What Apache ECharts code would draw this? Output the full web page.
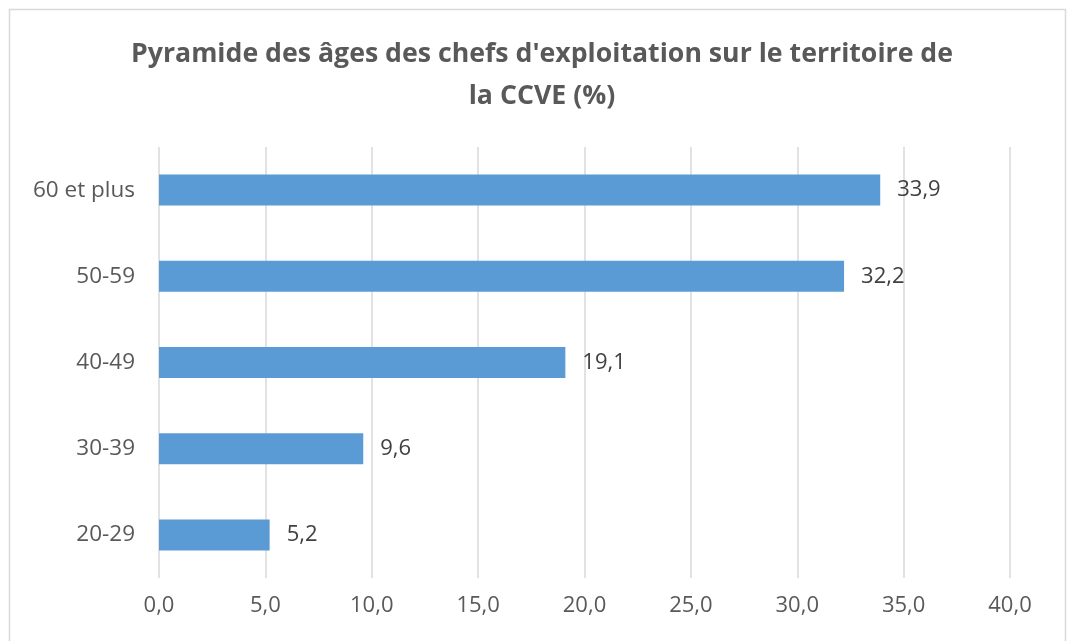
<!DOCTYPE html>
<html>
<head>
<meta charset="utf-8">
<script src="https://cdn.jsdelivr.net/npm/echarts@6/dist/echarts.min.js"></script>
<style>
  html, body { margin: 0; padding: 0; background: #fff; }
  #chart { width: 1069px; height: 641px; }
</style>
</head>
<body>
<div id="chart"></div>
<script>
// catégories d'âge, de bas en haut
var categories = ["20-29", "30-39", "40-49", "50-59", "60 et plus"];
var values = [5.2, 9.6, 19.1, 32.2, 33.9];
var titleText = "Pyramide des âges des chefs d'exploitation sur le territoire de\nla CCVE (%)";

var myChart = echarts.init(document.getElementById("chart"), null, { renderer: "canvas" });

var fmt = function (v) {
  return Number(v).toFixed(1).replace(".", ",");
};

var option = {
  animation: false,
  backgroundColor: "#ffffff",
  title: {
    text: titleText,
    left: 537,
    top: 28,
    textAlign: "center",
    textStyle: {
      fontFamily: "Open Sans",
      fontWeight: "bold",
      fontSize: 26.7,
      lineHeight: 42,
      color: "#595959",
    },
  },
  grid: {
    left: 159,
    right: 59,
    top: 147,
    bottom: 63,
  },
  xAxis: {
    type: "value",
    min: 0,
    max: 40,
    interval: 5,
    axisLine: { show: false },
    axisTick: { show: false },
    splitLine: { lineStyle: { color: "#d9d9d9", width: 1.5 } },
    axisLabel: {
      margin: 17,
      fontFamily: "Open Sans",
      fontSize: 22,
      color: "#595959",
      formatter: fmt,
    },
  },
  yAxis: {
    type: "category",
    data: categories,
    axisLine: { show: false },
    axisTick: { show: false },
    axisLabel: {
      margin: 24,
      fontFamily: "Open Sans",
      fontSize: 22.5,
      color: "#595959",
    },
  },
  series: [
    {
      type: "bar",
      data: values,
      barWidth: 31,
      itemStyle: { color: "#5b9bd5" },
      label: {
        show: true,
        position: "right",
        distance: 17,
        fontFamily: "Open Sans",
        fontSize: 22,
        color: "#404040",
        formatter: function (p) {
          return fmt(p.value);
        },
      },
    },
  ],
  graphic: [
    {
      type: "rect",
      shape: { x: 9.5, y: 9.5, width: 1056, height: 650 },
      style: { fill: "none", stroke: "#d9d9d9", lineWidth: 1.5 },
      silent: true,
    },
  ],
};

myChart.setOption(option, true);
</script>
</body>
</html>
